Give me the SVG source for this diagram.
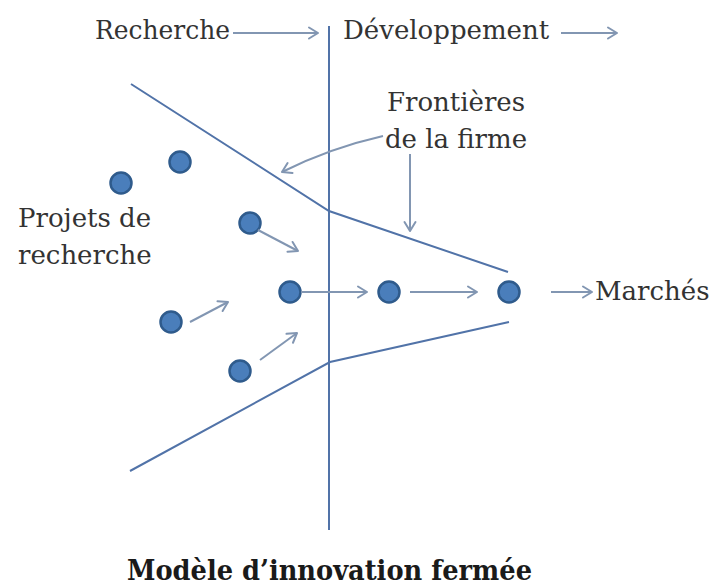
<svg xmlns="http://www.w3.org/2000/svg" width="713" height="588" viewBox="0 0 713 588">
<defs>
<marker id="ah" markerUnits="userSpaceOnUse" markerWidth="14" markerHeight="14" refX="12" refY="7" orient="auto">
<path d="M3,1.5 L12,7 L3,12.5" fill="none" stroke="#8296b2" stroke-width="2" stroke-linecap="round" stroke-linejoin="round"/>
</marker>
</defs>
<style>
text{font-family:"DejaVu Serif","Liberation Serif",serif;font-size:26px;fill:#333}
.title{font-weight:bold;font-size:27px;fill:#1a1a1a}
.axis{stroke:#5173a8;stroke-width:2;fill:none}
.arr{stroke:#8296b2;stroke-width:2;fill:none;marker-end:url(#ah)}
.dot{fill:#4a7ebb;stroke:#2f5b8c;stroke-width:2.5}
</style>
<rect width="713" height="588" fill="#fff"/>
<g id="lines">
<line class="axis" x1="329" y1="26" x2="329" y2="530"/>
<polyline class="axis" points="131,84 329,211 508,272"/>
<polyline class="axis" points="130,471 330,362 509,322"/>
</g>
<g id="labels">
<text x="95" y="39" textLength="135" lengthAdjust="spacingAndGlyphs">Recherche</text>
<text x="343" y="39">Développement</text>
<text x="18" y="227">Projets de</text>
<text x="18" y="264">recherche</text>
<text x="456" y="111" text-anchor="middle">Frontières</text>
<text x="456" y="148" text-anchor="middle">de la firme</text>
<text x="595" y="300">Marchés</text>
<text class="title" x="127" y="580" textLength="405" lengthAdjust="spacingAndGlyphs">Modèle d’innovation fermée</text>
</g>
<g id="nodes">
<circle id="n1" class="dot" cx="121" cy="183" r="10.5"/>
<circle id="n2" class="dot" cx="180" cy="162" r="10.5"/>
<circle id="n3" class="dot" cx="250" cy="223" r="10.5"/>
<circle id="n4" class="dot" cx="171" cy="322" r="10.5"/>
<circle id="n5" class="dot" cx="240" cy="371" r="10.5"/>
<circle id="n6" class="dot" cx="290" cy="292" r="10.5"/>
<circle id="n7" class="dot" cx="389" cy="292" r="10.5"/>
<circle id="n8" class="dot" cx="509" cy="292" r="10.5"/>
</g>
<g id="connectors">
<line class="arr" x1="233" y1="33" x2="318" y2="33"/>
<line class="arr" x1="561" y1="33" x2="617" y2="33"/>
<path class="arr" d="M383,136 Q330,148 282,172"/>
<line class="arr" x1="410" y1="154" x2="410" y2="231"/>
<line class="arr" x1="258" y1="230" x2="298" y2="251"/>
<line class="arr" x1="190" y1="322" x2="228" y2="302"/>
<line class="arr" x1="260" y1="360" x2="297" y2="333"/>
<line class="arr" x1="301" y1="292" x2="367" y2="292"/>
<line class="arr" x1="410" y1="292" x2="477" y2="292"/>
<line class="arr" x1="551" y1="292" x2="592" y2="292"/>
</g>
</svg>
